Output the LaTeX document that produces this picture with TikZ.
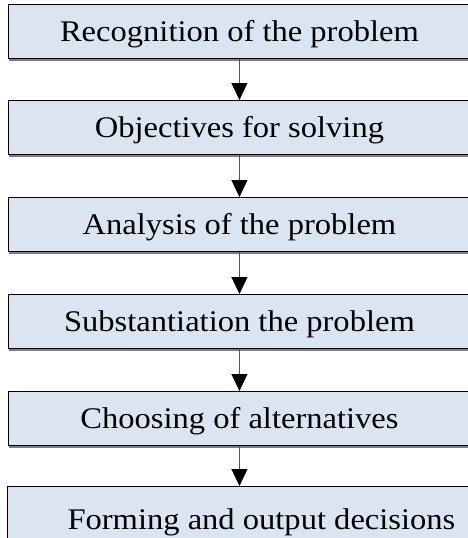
\documentclass[tikz,border=0pt]{standalone}
\usepackage{fontspec}
\setmainfont[FakeStretch=1.085]{Liberation Serif}
\usetikzlibrary{arrows.meta}
\definecolor{boxfill}{HTML}{DBE5F1}
\definecolor{shadowgray}{HTML}{7F7F7F}
\definecolor{linegray}{HTML}{555555}
\begin{document}
\begin{tikzpicture}[x=1pt,y=-1pt,
  stepbox/.style={draw=black, line width=0.9pt, fill=boxfill, anchor=north west,
    minimum height=54pt, inner sep=0pt, text height=23pt, text depth=3pt,
    font=\fontsize{30}{33}\selectfont},
  flow/.style={draw=linegray, line width=0.8pt, -{Triangle[width=16pt,length=17pt,color=black]}}]
\useasboundingbox (0,0) rectangle (468,538);
\node[stepbox, minimum width=462pt] (a) at (8,4) {Recognition of the problem};
\node[stepbox, minimum width=462pt] (b) at (8,100) {Objectives for solving};
\node[stepbox, minimum width=462pt] (c) at (8,197) {Analysis of the problem};
\node[stepbox, minimum width=462pt] (d) at (8,294) {Substantiation the problem};
\node[stepbox, minimum width=462pt] (e) at (8,391) {Choosing of alternatives};
\node[stepbox, minimum width=508pt, minimum height=60pt, text height=26pt, text depth=0pt] (f) at (7,486) {Forming and output decisions};
\foreach \n in {a,b,c,d,e}{
  \draw[shadowgray, line width=1.2pt] ([xshift=1pt,yshift=-1pt]\n.south west) -- ([yshift=-1pt]\n.south east);
}
\draw[flow] (a.south) -- (b.north);
\draw[flow] (b.south) -- (c.north);
\draw[flow] (c.south) -- (d.north);
\draw[flow] (d.south) -- (e.north);
\draw[flow] (e.south) -- (e.south |- f.north);
\end{tikzpicture}
\end{document}
